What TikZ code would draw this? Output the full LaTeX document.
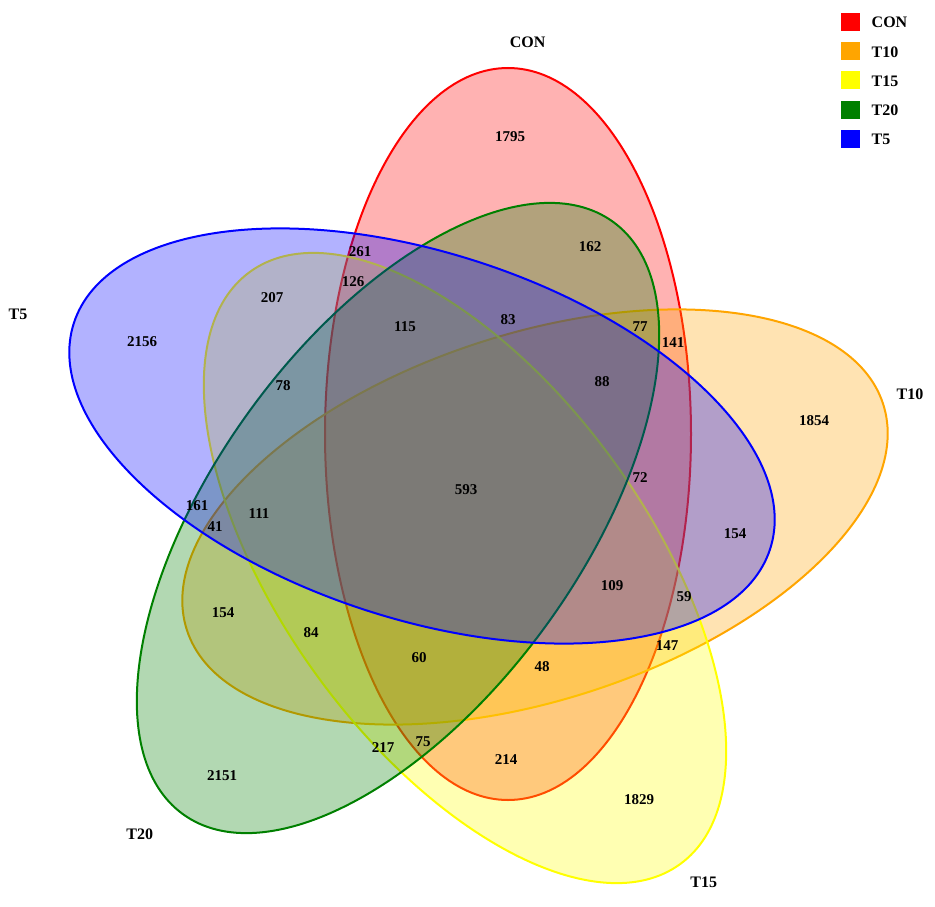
\documentclass[tikz,border=0pt]{standalone}
\usepackage{fontspec}
\setmainfont{Liberation Serif}
\definecolor{cCON}{RGB}{255,0,0}
\definecolor{cT10}{RGB}{255,165,0}
\definecolor{cT15}{RGB}{255,255,0}
\definecolor{cT20}{RGB}{0,128,0}
\definecolor{cT5}{RGB}{0,0,255}
\begin{document}
\begin{tikzpicture}[x=1pt,y=-1pt,
  venn/.style={line width=2pt, fill opacity=0.3, draw opacity=1},
  num/.style={font=\fontsize{15}{18}\selectfont\bfseries, inner sep=0pt, text=black},
  lab/.style={font=\fontsize{16}{19}\selectfont\bfseries, inner sep=0pt, text=black},
  key/.style={minimum width=19pt, minimum height=18pt, inner sep=0pt, draw=none}]
\useasboundingbox (0,0) rectangle (935,907);
\fill[white] (0,0) rectangle (935,907);

% ellipses, drawn in order CON, T10, T15, T20, T5
\draw[venn, draw=cCON, fill=cCON] (508,434) ellipse (183pt and 366pt);
\draw[venn, draw=cT10, fill=cT10, rotate around={-72:(535,517)}] (535,517) ellipse (183pt and 366pt);
\draw[venn, draw=cT15, fill=cT15, rotate around={-144:(465,568)}] (465,568) ellipse (183pt and 366pt);
\draw[venn, draw=cT20, fill=cT20, rotate around={144:(398,518)}] (398,518) ellipse (183pt and 366pt);
\draw[venn, draw=cT5, fill=cT5, rotate around={72:(422,436)}] (422,436) ellipse (183pt and 366pt);

% set labels
\node[lab] (lCON) at (527.7,42.5) {CON};
\node[lab] (lT5) at (18,314) {T5};
\node[lab] (lT10) at (910,394) {T10};
\node[lab] (lT20) at (139.7,834) {T20};
\node[lab] (lT15) at (703.7,882.5) {T15};

% region counts
\node[num] (n1795) at (510,137) {1795};
\node[num] (n162) at (590,247) {162};
\node[num] (n261) at (360,252) {261};
\node[num] (n126) at (353,282) {126};
\node[num] (n207) at (272,298) {207};
\node[num] (n2156) at (142,342) {2156};
\node[num] (n115) at (405,327) {115};
\node[num] (n83) at (508,320) {83};
\node[num] (n77) at (640,327) {77};
\node[num] (n141) at (673,343) {141};
\node[num] (n88) at (602,382) {88};
\node[num] (n78) at (283,386) {78};
\node[num] (n1854) at (814,421) {1854};
\node[num] (n72) at (640,478) {72};
\node[num] (n593) at (466,490) {593};
\node[num] (n161) at (197,506) {161};
\node[num] (n41) at (215,527) {41};
\node[num] (n111) at (259,514) {111};
\node[num] (n154a) at (735,534) {154};
\node[num] (n109) at (612,586) {109};
\node[num] (n59) at (684,597) {59};
\node[num] (n154b) at (223,613) {154};
\node[num] (n84) at (311,633) {84};
\node[num] (n147) at (667,646) {147};
\node[num] (n60) at (419,658) {60};
\node[num] (n48) at (542,667) {48};
\node[num] (n217) at (383,748) {217};
\node[num] (n75) at (423,742) {75};
\node[num] (n214) at (506,760) {214};
\node[num] (n2151) at (222,776) {2151};
\node[num] (n1829) at (639,800) {1829};

% legend
\node[key, fill=cCON] (kCON) at (850.3,21.7) {};
\node[key, fill=cT10] (kT10) at (850.3,51) {};
\node[key, fill=cT15] (kT15) at (850.3,80.3) {};
\node[key, fill=cT20] (kT20) at (850.3,109.6) {};
\node[key, fill=cT5] (kT5) at (850.3,138.9) {};
\node[lab, anchor=west] (tCON) at (871.5,22.5) {CON};
\node[lab, anchor=west] (tT10) at (871.5,51.8) {T10};
\node[lab, anchor=west] (tT15) at (871.5,81.1) {T15};
\node[lab, anchor=west] (tT20) at (871.5,110.4) {T20};
\node[lab, anchor=west] (tT5) at (871.5,139.7) {T5};
\end{tikzpicture}
\end{document}
